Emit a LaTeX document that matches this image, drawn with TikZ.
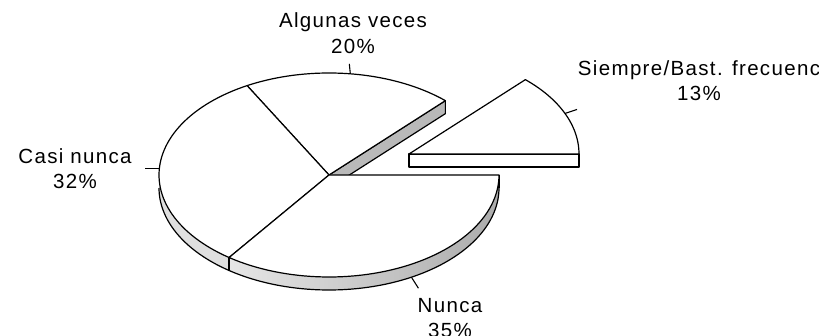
\documentclass[tikz,border=0pt]{standalone}
\usepackage{fontspec}
\setmainfont{Liberation Sans}[LetterSpace=6.5]
\usetikzlibrary{calc}
\begin{document}
\begin{tikzpicture}[x=1pt,y=-1pt,line join=round,
  edge/.style={draw=black,line width=1.2pt},
  lbl/.style={font=\fontsize{20.5}{25}\selectfont,inner sep=0pt,anchor=base},
  leader/.style={draw=black,line width=1.1pt}]
\useasboundingbox (0,0) rectangle (819,336);
\def\cx{329}\def\cy{175}\def\rx{170}\def\ry{102}\def\hh{13}
\def\ex{409}\def\ey{154}
\coordinate (C) at (\cx,\cy);
\coordinate (Cb) at (\cx,\cy+\hh);
\coordinate (E) at (\ex,\ey);
% side walls of the main pie
\path[fill=gray!25] plot[domain=180:234,samples=30] ({\cx+\rx*cos(\x)},{\cy-\ry*sin(\x)})
  -- plot[domain=234:180,samples=30] ({\cx+\rx*cos(\x)},{\cy+\hh-\ry*sin(\x)}) -- cycle;
\path[left color=gray!20,right color=gray!65] plot[domain=234:360,samples=60] ({\cx+\rx*cos(\x)},{\cy-\ry*sin(\x)})
  -- plot[domain=360:234,samples=60] ({\cx+\rx*cos(\x)},{\cy+\hh-\ry*sin(\x)}) -- cycle;
\draw[edge] plot[domain=180:360,samples=90] ({\cx+\rx*cos(\x)},{\cy+\hh-\ry*sin(\x)});
\draw[edge] ({\cx+\rx*cos(234)},{\cy-\ry*sin(234)}) -- ++(0,\hh);
\draw[edge] ({\cx+\rx},\cy) -- ++(0,\hh);
% cut face of "Algunas veces"
\filldraw[edge,fill=gray!55] (C) -- ({\cx+\rx*cos(46.8)},{\cy-\ry*sin(46.8)})
  -- ++(0,\hh) -- (Cb) -- cycle;
% top surfaces
\filldraw[edge,fill=white] (C) -- plot[domain=46.8:118.8,samples=40] ({\cx+\rx*cos(\x)},{\cy-\ry*sin(\x)}) -- cycle;
\filldraw[edge,fill=white] (C) -- plot[domain=118.8:234,samples=60] ({\cx+\rx*cos(\x)},{\cy-\ry*sin(\x)}) -- cycle;
\filldraw[edge,fill=white] (C) -- plot[domain=234:360,samples=60] ({\cx+\rx*cos(\x)},{\cy-\ry*sin(\x)}) -- cycle;
% exploded slice
\filldraw[edge,fill=white] (E) rectangle ++(\rx,\hh);
\filldraw[edge,fill=white] (E) -- plot[domain=0:46.8,samples=30] ({\ex+\rx*cos(\x)},{\ey-\ry*sin(\x)}) -- cycle;
% labels
\node[lbl] (alg) at (353,28) {\begin{tabular}[t]{@{}c@{}}Algunas veces\\[1pt]20\%\end{tabular}};
\node[lbl] (sie) at (699,76) {\begin{tabular}[t]{@{}c@{}}Siempre/Bast. frecuenc\\13\%\end{tabular}};
\node[lbl] (casi) at (75,164) {\begin{tabular}[t]{@{}c@{}}Casi nunca\\32\%\end{tabular}};
\node[lbl] (nun) at (450,313) {\begin{tabular}[t]{@{}c@{}}Nunca\\35\%\end{tabular}};
% leaders
\coordinate (algA) at ({\cx+\rx*cos(82.8)},{\cy-\ry*sin(82.8)});
\coordinate (algB) at ($(algA)+(-1,-10)$);
\coordinate (sieA) at ({\ex+\rx*cos(23.4)},{\ey-\ry*sin(23.4)});
\coordinate (sieB) at ($(sieA)+(12,-4)$);
\coordinate (casA) at ({\cx+\rx*cos(176.4)},{\cy-\ry*sin(176.4)});
\coordinate (casB) at ($(casA)+(-14,0)$);
\coordinate (nunA) at ({\cx+\rx*cos(299)},{\cy+\hh-\ry*sin(299)});
\coordinate (nunB) at ($(nunA)+(7,11)$);
\draw[leader] (algA) -- (algB);
\draw[leader] (sieA) -- (sieB);
\draw[leader] (casA) -- (casB);
\draw[leader] (nunA) -- (nunB);
\end{tikzpicture}
\end{document}
